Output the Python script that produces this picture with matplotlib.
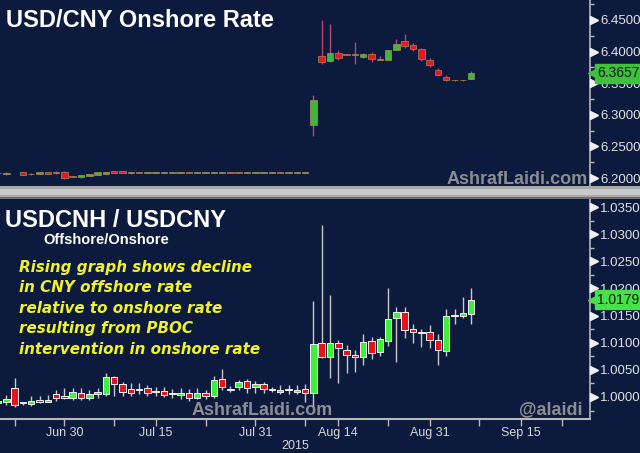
import numpy as np
import pandas as pd
import matplotlib
matplotlib.use("Agg")
import matplotlib.pyplot as plt
from matplotlib.patches import Rectangle

plt.rcParams['font.family'] = ['Liberation Sans', 'DejaVu Sans']

# ---------------- data ----------------
dates = pd.bdate_range("2015-06-18", "2015-09-07")

# USD/CNY onshore (NaN = market closed)
cny_open = [6.2075, 6.2058, np.nan, 6.2090, 6.2066, 6.2065, 6.2088, 6.2090, 6.2100, 6.2030,
            6.2012, 6.2040, 6.2050, 6.2070, 6.2112, 6.2112, 6.2075, 6.2094, 6.2078, 6.2084,
            6.2080, 6.2084, 6.2085, 6.2092, 6.2083, 6.2084, 6.2085, 6.2084, 6.2094, 6.2092,
            6.2084, 6.2085, 6.2084, 6.2082, 6.2094, 6.2084, 6.2085, 6.2084,
            6.2836, 6.3924, 6.3850, 6.3976, 6.3955, 6.3952, 6.3913, 6.3955, 6.3870, 6.3872,
            6.4030, 6.4160, 6.4097, 6.4045, 6.3872, 6.3714, 6.3597, 6.3545, 6.3545, 6.3572]
cny_high = [6.2090, 6.2088, np.nan, 6.2095, 6.2080, 6.2092, 6.2092, 6.2110, 6.2105, 6.2035,
            6.2050, 6.2070, 6.2092, 6.2098, 6.2118, 6.2116, 6.2095, 6.2098, 6.2094, 6.2092,
            6.2093, 6.2090, 6.2091, 6.2095, 6.2089, 6.2090, 6.2090, 6.2090, 6.2097, 6.2095,
            6.2090, 6.2090, 6.2090, 6.2095, 6.2097, 6.2090, 6.2090, 6.2090,
            6.3309, 6.4492, 6.4440, 6.4030, 6.3960, 6.4150, 6.3980, 6.3992, 6.3935, 6.4030,
            6.4203, 6.4271, 6.4130, 6.4060, 6.3895, 6.3745, 6.3630, 6.3548, 6.3548, 6.3690]
cny_low = [6.2072, 6.2055, np.nan, 6.2050, 6.2050, 6.2060, 6.2065, 6.2062, 6.1990, 6.2010,
           6.2008, 6.2035, 6.2045, 6.2065, 6.2072, 6.2075, 6.2070, 6.2072, 6.2074, 6.2082,
           6.2078, 6.2082, 6.2083, 6.2080, 6.2081, 6.2082, 6.2083, 6.2082, 6.2082, 6.2083,
           6.2082, 6.2083, 6.2082, 6.2080, 6.2082, 6.2082, 6.2083, 6.2082,
           6.2662, 6.3798, 6.3834, 6.3861, 6.3945, 6.3810, 6.3905, 6.3834, 6.3865, 6.3865,
           6.4018, 6.4061, 6.4010, 6.3850, 6.3760, 6.3625, 6.3530, 6.3542, 6.3542, 6.3560]
cny_close = [6.2085, 6.2084, np.nan, 6.2052, 6.2058, 6.2088, 6.2070, 6.2072, 6.1995, 6.2015,
             6.2045, 6.2066, 6.2088, 6.2092, 6.2078, 6.2080, 6.2092, 6.2076, 6.2090, 6.2088,
             6.2090, 6.2087, 6.2088, 6.2082, 6.2086, 6.2087, 6.2088, 6.2087, 6.2084, 6.2085,
             6.2087, 6.2088, 6.2087, 6.2092, 6.2084, 6.2087, 6.2088, 6.2087,
             6.3231, 6.3834, 6.3976, 6.3897, 6.3950, 6.3948, 6.3955, 6.3877, 6.3874, 6.4018,
             6.4113, 6.4082, 6.4045, 6.3888, 6.3782, 6.3635, 6.3545, 6.3545, 6.3545, 6.3657]

# USDCNH / USDCNY ratio
rat_open = [0.9989, 0.9990, 1.0016, 0.9989, 0.9987, 0.9992, 0.9991, 1.0006, 1.0000, 0.9998,
            1.0008, 0.9999, 1.0006, 1.0005, 1.0036, 1.0024, 1.0015, 1.0013, 1.0016, 1.0009,
            1.0011, 1.0006, 1.0004, 1.0007, 0.9999, 1.0007, 1.0001, 1.0033, 1.0014, 1.0018,
            1.0030, 1.0019, 1.0024, 1.0014, 1.0010, 1.0012, 1.0010, 1.0014,
            1.0007, 1.0099, 1.0073, 1.0100, 1.0087, 1.0075, 1.0074, 1.0103, 1.0082, 1.0104,
            1.0145, 1.0156, 1.0125, 1.0118, 1.0119, 1.0105, 1.0084, 1.0149, 1.0150, 1.0153]
rat_high = [0.9996, 1.0004, 1.0035, 0.9991, 1.0002, 1.0002, 1.0003, 1.0013, 1.0016, 1.0016,
            1.0017, 1.0013, 1.0016, 1.0044, 1.0039, 1.0027, 1.0025, 1.0025, 1.0022, 1.0019,
            1.0019, 1.0015, 1.0017, 1.0014, 1.0017, 1.0013, 1.0039, 1.0051, 1.0020, 1.0031,
            1.0033, 1.0030, 1.0028, 1.0019, 1.0022, 1.0022, 1.0022, 1.0023,
            1.0177, 1.0317, 1.0188, 1.0105, 1.0096, 1.0087, 1.0116, 1.0110, 1.0110, 1.0201,
            1.0165, 1.0165, 1.0134, 1.0125, 1.0133, 1.0116, 1.0162, 1.0162, 1.0185, 1.0201]
rat_low = [0.9987, 0.9985, 0.9982, 0.9985, 0.9983, 0.9988, 0.9990, 0.9993, 0.9997, 0.9994,
           0.9994, 0.9995, 0.9998, 1.0002, 1.0002, 1.0002, 1.0002, 1.0005, 1.0002, 1.0002,
           1.0000, 0.9999, 0.9997, 0.9993, 0.9996, 0.9996, 0.9999, 1.0013, 1.0009, 1.0013,
           1.0007, 1.0008, 1.0008, 1.0009, 1.0005, 1.0006, 1.0005, 0.9990,
           0.9982, 1.0071, 1.0035, 1.0025, 1.0044, 1.0046, 1.0059, 1.0070, 1.0075, 1.0093,
           1.0065, 1.0109, 1.0100, 1.0092, 1.0090, 1.0059, 1.0076, 1.0135, 1.0145, 1.0134]
rat_close = [0.9993, 0.9996, 0.9985, 0.9988, 0.9993, 0.9991, 0.9993, 0.9999, 0.9999, 1.0009,
             0.9999, 1.0006, 1.0007, 1.0036, 1.0024, 1.0009, 1.0007, 1.0014, 1.0007, 1.0010,
             1.0004, 1.0005, 1.0005, 0.9998, 1.0008, 1.0001, 1.0031, 1.0018, 1.0013, 1.0028,
             1.0016, 1.0024, 1.0014, 1.0013, 1.0011, 1.0013, 1.0011, 1.0007,
             1.0098, 1.0073, 1.0100, 1.0090, 1.0077, 1.0074, 1.0102, 1.0081, 1.0106, 1.0143,
             1.0157, 1.0124, 1.0119, 1.0119, 1.0105, 1.0087, 1.0149, 1.0151, 1.0154, 1.0179]

cny_ticks = [6.20, 6.25, 6.30, 6.35, 6.40, 6.45]
rat_ticks = [1.000, 1.005, 1.010, 1.015, 1.020, 1.025, 1.030, 1.035]
date_labels = ["Jun 30", "Jul 15", "Jul 31", "Aug 14", "Aug 31", "Sep 15"]
label_dates = ["2015-06-30", "2015-07-15", "2015-07-31", "2015-08-14", "2015-08-31", "2015-09-15"]
minor_dates = ["2015-06-22", "2015-07-08", "2015-07-23", "2015-08-10", "2015-08-24",
               "2015-09-08", "2015-09-22"]
year_label = "2015"
last_cny = "6.3657"
last_rat = "1.0179"

# ---------------- styling ----------------
BG = '#0b1a3d'
W, H = 640, 453
fig = plt.figure(figsize=(6.4, 4.53), dpi=100, facecolor=BG)

all_days = pd.bdate_range("2015-06-18", "2015-09-30")
pos = {d: i for i, d in enumerate(all_days)}
x = np.array([pos[d] for d in dates], dtype=float)
px_per_day = 8.3
x_left = pos[pd.Timestamp("2015-06-30")] - 64.4 / px_per_day
x_right = x_left + 590 / px_per_day

ax1 = fig.add_axes([0, 1 - 186 / H, 590 / W, 186 / H], facecolor=BG)
ax2 = fig.add_axes([0, 1 - 419 / H, 590 / W, (419 - 199) / H], facecolor=BG)


def candles(ax, o, h, l, c, up_fc, dn_fc, edge, wick_up, wick_dn, minh, width=0.78, elw=0.6):
    o, h, l, c = map(lambda a: np.asarray(a, float), (o, h, l, c))
    ok = ~np.isnan(o)
    xs, o, h, l, c = x[ok], o[ok], h[ok], l[ok], c[ok]
    up = c >= o
    ax.vlines(xs, l, h, colors=[wick_up if u else wick_dn for u in up], lw=1.0, zorder=2)
    bottoms = np.minimum(o, c)
    heights = np.maximum(np.abs(c - o), minh)
    ax.bar(xs, heights, width=width, bottom=bottoms,
           color=[up_fc if u else dn_fc for u in up],
           edgecolor=edge, linewidth=elw, zorder=3)


candles(ax1, cny_open, cny_high, cny_low, cny_close,
        up_fc='#3fb83a', dn_fc='#ec1427', edge='#b08a50', wick_up='#b0507a',
        wick_dn='#c0406f', minh=0.0012, elw=0.5)
candles(ax2, rat_open, rat_high, rat_low, rat_close,
        up_fc='#3ef03a', dn_fc='#e8121e', edge='#f0f0f0', wick_up='#c8c8c8',
        wick_dn='#c8c8c8', minh=0.00025, elw=0.7)

ax1.set_ylim(6.1874, 6.4815)
ax2.set_ylim(0.99594, 1.03648)
for ax in (ax1, ax2):
    ax.set_xlim(x_left, x_right)
    for s in ('top', 'left'):
        ax.spines[s].set_visible(False)
    ax.spines['right'].set_color('#b8b8b8')
    ax.spines['right'].set_linewidth(1.2)
    ax.yaxis.tick_right()
    ax.tick_params(axis='y', which='major', length=0, pad=7.5,
                   labelcolor='#e2e2e2', labelsize=9.5)
    ax.tick_params(axis='y', which='minor', length=3, color='#b8b8b8', width=1)

ax1.spines['bottom'].set_visible(False)
ax1.set_xticks([])
ax1.set_yticks(cny_ticks)
ax1.set_yticklabels([f"{v:.4f}" for v in cny_ticks])
ax1.set_yticks([v + 0.025 for v in cny_ticks], minor=True)

ax2.set_yticks(rat_ticks)
ax2.set_yticklabels([f"{v:.4f}" for v in rat_ticks])
ax2.set_yticks([v - 0.0025 for v in rat_ticks], minor=True)
ax2.spines['bottom'].set_color('#b8b8b8')
ax2.spines['bottom'].set_linewidth(1.5)
ax2.set_xticks([pos[pd.Timestamp(d)] for d in label_dates])
ax2.set_xticklabels(date_labels)
ax2.set_xticks([pos[pd.Timestamp(d)] for d in minor_dates], minor=True)
ax2.tick_params(axis='x', which='both', length=5, color='#b8b8b8', width=1,
                labelcolor='#d8d8d8', labelsize=9, pad=1)

# triangle tick markers on the right axis
for ax, ticks in ((ax1, cny_ticks), (ax2, rat_ticks)):
    ax.plot([1.006] * len(ticks), ticks, ls='none', marker='>', ms=5.5, color='#f0f0f0',
            transform=ax.get_yaxis_transform(), clip_on=False, zorder=5)

# last-price tags
for ax, val, col in ((ax1, last_cny, '#3ec23e'), (ax2, last_rat, '#48e048')):
    v = float(val)
    ax.plot([1.006], [v], ls='none', marker='<', ms=9, color=col,
            transform=ax.get_yaxis_transform(), clip_on=False, zorder=6)
    ax.text(1.012, v, val, transform=ax.get_yaxis_transform(), ha='left', va='center',
            fontsize=10, color='#0a1a0a', zorder=7, clip_on=False,
            bbox=dict(boxstyle='square,pad=0.18', fc=col, ec=col))

# grey separator
fig.patches.append(Rectangle((0, 1 - 199 / H), 1, 13 / H, transform=fig.transFigure,
                             fc='#a9a9a9', ec='none', zorder=10))
fig.patches.append(Rectangle((0, 1 - 195 / H), 1, 6 / H, transform=fig.transFigure,
                             fc='#c9c9c9', ec='none', zorder=11))
fig.patches.append(Rectangle((0, 1 - 199 / H), 1, 2 / H, transform=fig.transFigure,
                             fc='#6c6c6c', ec='none', zorder=11))


def ft(xp, yp, s, **kw):
    fig.text(xp / W, 1 - yp / H, s, **kw)


ft(6, 27, "USD/CNY Onshore Rate", color='white', fontsize=17, fontweight='bold', va='baseline')
ft(5, 227, "USDCNH / USDCNY", color='white', fontsize=17, fontweight='bold', va='baseline')
ft(43, 244, "Offshore/Onshore", color='white', fontsize=10.5, fontweight='bold', va='baseline')

note_lines = ["Rising graph shows decline", "in CNY offshore rate", "relative to onshore rate",
              "resulting from PBOC", "intervention in onshore rate"]
for k, line in enumerate(note_lines):
    ft(19, 271.7 + k * 20.6, line, color='#f2f22a', fontsize=10.9, fontweight='bold',
       fontstyle='italic', va='baseline', family=['DejaVu Sans'])

ft(588, 184, "AshrafLaidi.com", color='#9a9a9a', fontsize=13, fontweight='bold',
   va='baseline', ha='right', alpha=0.9)
ft(333, 415, "AshrafLaidi.com", color='#9a9a9a', fontsize=13, fontweight='bold',
   va='baseline', ha='right', alpha=0.9)
ft(582, 414, "@alaidi", color='#9a9a9a', fontsize=13, fontweight='bold',
   va='baseline', ha='right', alpha=0.9)
ft(295, 449, year_label, color='#d8d8d8', fontsize=9, ha='center', va='baseline')

fig.savefig("out.png", dpi=100, facecolor=BG)
